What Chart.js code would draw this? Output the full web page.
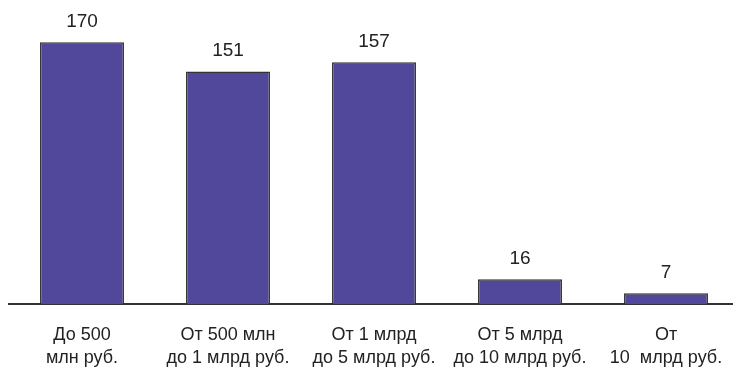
<!DOCTYPE html>
<html>
<head>
<meta charset="utf-8">
<script src="https://cdn.jsdelivr.net/npm/chart.js@4"></script>
<style>
    html, body { margin: 0; padding: 0; background: #fff; overflow: hidden; }
    #wrap { width: 745px; height: 390px; }
</style>
</head>
<body>
<div id="wrap"><canvas id="chart"></canvas></div>
<script>
const categories = [
    ['До 500', 'млн руб.'],
    ['От 500 млн', 'до 1 млрд руб.'],
    ['От 1 млрд', 'до 5 млрд руб.'],
    ['От 5 млрд', 'до 10 млрд руб.'],
    ['От', '10  млрд руб.']
];
const counts = [170, 151, 157, 16, 7];

const fontFamily = '"Liberation Sans", Arial, sans-serif';

// value labels above the bars
const valueLabels = {
    id: 'valueLabels',
    afterDatasetsDraw(chart) {
        const ctx = chart.ctx;
        const meta = chart.getDatasetMeta(0);
        ctx.save();
        ctx.font = '19px ' + fontFamily;
        ctx.fillStyle = '#222';
        ctx.textAlign = 'center';
        ctx.textBaseline = 'alphabetic';
        meta.data.forEach((bar, i) => {
            ctx.fillText(String(counts[i]), bar.x, bar.y - 15);
        });
        ctx.restore();
    }
};

new Chart(document.getElementById('chart').getContext('2d'), {
    type: 'bar',
    data: {
        labels: categories,
        datasets: [{
            data: counts,
            backgroundColor: '#51479b',
            borderColor: '#333333',
            borderWidth: 1.5,
            borderSkipped: 'bottom',
            categoryPercentage: 1,
            barPercentage: 0.575
        }]
    },
    options: {
        responsive: true,
        maintainAspectRatio: false,
        animation: false,
        layout: { padding: { left: 9, right: 6, top: 0, bottom: 0 } },
        plugins: {
            legend: { display: false },
            tooltip: { enabled: false }
        },
        scales: {
            x: {
                grid: { display: false, drawTicks: false },
                border: { display: true, color: '#333333', width: 2 },
                ticks: {
                    padding: 20,
                    color: '#222',
                    maxRotation: 0,
                    autoSkip: false,
                    font: { family: fontFamily, size: 18, lineHeight: 1.28 }
                }
            },
            y: {
                display: false,
                min: 0,
                max: 197.4
            }
        }
    },
    plugins: [valueLabels]
});
</script>
</body>
</html>
